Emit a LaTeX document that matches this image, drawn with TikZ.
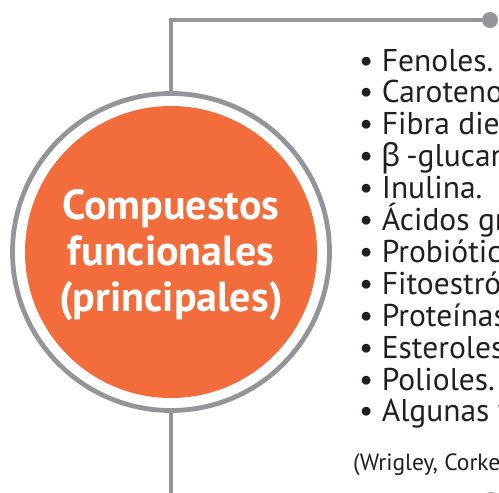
\documentclass[tikz,border=0pt]{standalone}
\usepackage{fontspec}
\setmainfont{PT Sans}
\newfontfamily\grk{Noto Sans}
\definecolor{orng}{HTML}{F26C3C}
\definecolor{gry}{HTML}{949599}
\definecolor{ink}{HTML}{231F20}
\begin{document}
\begin{tikzpicture}[x=1pt,y=-1pt,
  conn/.style={draw=gry,line width=4.2pt},
  enddot/.style={circle,fill=gry,minimum size=16pt,inner sep=0pt},
  listtext/.style={text=ink,inner sep=0pt,anchor=base west,font=\fontsize{31.5}{32}\selectfont},
]
\useasboundingbox (0,0) rectangle (499,493);
\clip (0,0) rectangle (499,493);
\fill[white] (0,0) rectangle (499,493);
\node[circle,fill=orng,minimum size=292pt,inner sep=0pt] (core) at (171,252) {};
\node[circle,draw=gry,line width=4.8pt,minimum size=317pt,inner sep=0pt] (ring) at (171,252) {};
\node[text=white,align=center,inner sep=0pt,font=\fontsize{42}{46}\bfseries\selectfont] (title) at (171,255) {Compuestos\\funcionales\\(principales)};
\node[enddot] (dot1) at (490,20) {};
\node[enddot] (dot2) at (491,500) {};
\coordinate (bot) at (171,500);
\draw[conn] (ring.north) |- (dot1);
\draw[conn] (ring.south) -- (bot);
\foreach \t [count=\i] in {%
Fenoles.,
Carotenoides.,
Fibra dietética.,
{\grk β}\,-glucanos.,
Inulina.,
Ácidos grasos,
Probióticos.,
Fitoestrógenos.,
Proteínas,
Esteroles,
Polioles.,
Algunas vitaminas}
  \node[listtext] (item\i) at (359,{71+(\i-1)*31.9}) {• \t};
\node[text=ink,inner sep=0pt,anchor=base west,font=\fontsize{23.5}{26}\selectfont] (cite) at (353,470) {(Wrigley, Corke, Seetharaman};
\end{tikzpicture}
\end{document}
